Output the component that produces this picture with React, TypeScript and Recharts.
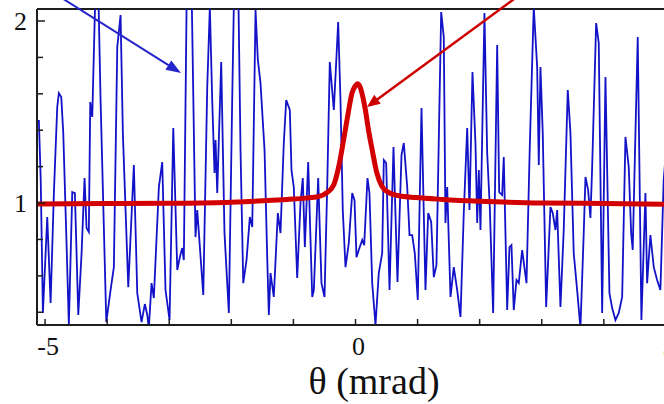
import React from 'react';
import { LineChart, Line, XAxis, YAxis, ReferenceLine } from 'recharts';

// noisy measured trace (blue)
const thetaBlue = [
  -5.10, -5.07, -5.035, -4.965, -4.911, -4.858, -4.804, -4.778, -4.739, -4.707,
  -4.659, -4.617, -4.562, -4.520, -4.465, -4.412, -4.364, -4.332, -4.295, -4.272,
  -4.240, -4.198, -4.171, -4.143, -4.106, -4.014, -3.945, -3.892, -3.837, -3.784,
  -3.747, -3.660, -3.570, -3.515, -3.446, -3.393, -3.354, -3.329, -3.285, -3.248,
  -3.167, -3.113, -3.060, -2.995, -2.935, -2.871, -2.829, -2.791, -2.765, -2.721,
  -2.700, -2.646, -2.620, -2.577, -2.549, -2.452, -2.388, -2.346, -2.308, -2.271,
  -2.254, -2.227, -2.163, -2.110, -2.040, -1.986, -1.960, -1.932, -1.889, -1.852,
  -1.808, -1.755, -1.702, -1.663, -1.610, -1.573, -1.530, -1.465, -1.422, -1.396,
  -1.369, -1.316, -1.251, -1.208, -1.155, -1.116, -1.058, -1.031, -0.994, -0.939,
  -0.886, -0.849, -0.816, -0.762, -0.697, -0.671, -0.601, -0.548, -0.499, -0.456,
  -0.414, -0.349, -0.279, -0.242, -0.205, -0.161, -0.108, -0.053, -0.016, 0.016,
  0.053, 0.108, 0.140, 0.193, 0.225, 0.269, 0.322, 0.375, 0.430, 0.456,
  0.494, 0.548, 0.612, 0.676, 0.741, 0.778, 0.833, 0.870, 0.913, 0.955,
  1.003, 1.063, 1.127, 1.171, 1.219, 1.261, 1.304, 1.380, 1.422, 1.449,
  1.477, 1.530, 1.583, 1.638, 1.691, 1.744, 1.799, 1.836, 1.884, 1.932,
  1.960, 1.986, 2.013, 2.077, 2.121, 2.163, 2.217, 2.282, 2.314, 2.362,
  2.388, 2.443, 2.480, 2.512, 2.549, 2.593, 2.630, 2.684, 2.754, 2.807,
  2.871, 2.926, 2.952, 2.979, 3.016, 3.071, 3.140, 3.177, 3.221, 3.248,
  3.301, 3.354, 3.419, 3.462, 3.515, 3.570, 3.623, 3.676, 3.704, 3.747,
  3.784, 3.812, 3.876, 3.918, 3.973, 4.026, 4.090, 4.134, 4.187, 4.240,
  4.295, 4.348, 4.401, 4.440, 4.465, 4.509, 4.546, 4.605, 4.670, 4.697,
  4.750, 4.804, 4.858, 4.911, 4.964, 5.04, 5.10,
];

const signalBlue = [
  1.456, 1.126, 0.396, 0.923, 0.451, 1.055, 1.527, 1.604, 1.582, 1.385,
  0.835, 0.330, 1.060, 1.055, 0.385, 0.725, 1.137, 0.863, 0.841, 1.555,
  1.473, 2.044, 2.225, 2.170, 1.566, 0.346, 0.522, 0.648, 1.857, 2.033,
  1.385, 0.538, 1.209, 0.505, 0.346, 0.445, 0.385, 0.313, 0.560, 0.478,
  1.088, 1.225, 0.522, 0.357, 1.412, 0.632, 0.703, 0.753, 0.687, 2.077,
  2.297, 2.297, 1.747, 0.813, 0.962, 0.495, 1.637, 2.077, 1.566, 1.165,
  1.346, 1.055, 1.775, 0.835, 0.396, 1.566, 2.077, 2.297, 2.209, 1.291,
  0.560, 0.687, 0.923, 0.868, 2.060, 1.786, 1.659, 1.291, 0.703, 0.385,
  0.615, 0.484, 0.945, 0.835, 1.330, 1.566, 1.511, 1.181, 1.088, 0.588,
  1.000, 1.137, 0.758, 1.225, 0.484, 0.522, 1.137, 0.560, 0.484, 1.088,
  1.775, 1.511, 1.995, 1.566, 0.962, 0.648, 0.780, 1.055, 1.016, 0.703,
  0.742, 0.797, 0.769, 1.137, 1.055, 0.560, 0.330, 0.615, 0.725, 1.236,
  1.220, 0.522, 1.308, 0.566, 1.264, 1.330, 1.088, 0.824, 0.824, 0.725,
  0.467, 1.522, 0.522, 0.945, 0.896, 0.593, 0.659, 2.049, 1.912, 0.890,
  1.088, 0.484, 0.648, 0.522, 0.374, 0.945, 1.412, 0.962, 1.720, 1.330,
  0.890, 1.181, 0.852, 2.044, 1.275, 0.978, 0.396, 1.868, 1.060, 1.044,
  1.253, 0.412, 0.758, 0.769, 0.412, 0.577, 0.560, 0.742, 0.560, 1.308,
  2.077, 1.747, 1.209, 1.747, 1.385, 0.429, 0.978, 0.945, 0.852, 0.962,
  0.429, 0.852, 1.621, 1.385, 0.725, 0.522, 0.313, 0.835, 1.143, 1.071,
  0.918, 1.198, 1.989, 1.879, 0.396, 1.692, 0.505, 0.423, 0.357, 0.396,
  0.484, 1.363, 1.198, 0.835, 0.742, 1.385, 1.912, 0.357, 1.055, 0.560,
  0.824, 0.648, 0.577, 0.522, 1.126, 1.45, 0.85,
];

// smooth resonance curve (red)
const thetaRed = [
  -5.13, -4, -3, -2, -1.5, -1.1, -0.8, -0.6, -0.45, -0.35, -0.27, -0.2, -0.15,
  -0.11, -0.06, 0, 0.03, 0.07, 0.12, 0.16, 0.21, 0.27, 0.34, 0.43, 0.55, 0.7,
  0.97, 1.4, 2, 3, 4, 5.13,
];
const signalRed = [
  0.995, 0.997, 0.999, 1.005, 1.012, 1.02, 1.027, 1.035, 1.06, 1.1, 1.2, 1.33, 1.43,
  1.51, 1.6, 1.645, 1.655, 1.64, 1.58, 1.51, 1.4, 1.29, 1.17, 1.09, 1.055, 1.04,
  1.03, 1.02, 1.01, 1.0, 0.998, 0.993,
];

const xTicks = [-5, -4, -3, -2, -1, 0, 1, 2, 3, 4, 5];
const xLabels = [-5, 0, 5];
const yTicks = [0.4, 0.6, 0.8, 1, 1.2, 1.4, 1.6, 1.8, 2];
const yLabels = [1, 2];

const X_DOMAIN: [number, number] = [-5.13, 5.13];
const Y_DOMAIN: [number, number] = [0.33, 2.066];

// arrow annotations: [start, tip]
const blueArrow = [{ x: -5.19, y: 2.225 }, { x: -2.81, y: 1.714 }];
const redArrow = [{ x: 2.97, y: 2.225 }, { x: 0.185, y: 1.528 }];

const blueData = thetaBlue.map((x, i) => ({ x, y: signalBlue[i] }));
const redData = thetaRed.map((x, i) => ({ x, y: signalRed[i] }));

const FONT = '"Liberation Serif", "Times New Roman", serif';
const AXIS = '#1e1e1e';

function YTick(props: any) {
  const { x, y, payload } = props;
  const v = payload.value;
  const major = yLabels.includes(v);
  return (
    <g>
      <line x1={x + 10} x2={x + 10 + (major ? 8 : 6)} y1={y} y2={y} stroke={AXIS} strokeWidth={1.5} />
      {major && (
        <text x={x} y={y} dy={8.5} textAnchor="end" fontSize={26} fontFamily={FONT} fill="#111">
          {v}
        </text>
      )}
    </g>
  );
}

function XTick(props: any) {
  const { x, y, payload } = props;
  const v = payload.value;
  const major = xLabels.includes(v);
  return (
    <g>
      <line x1={x} x2={x} y1={y - 10} y2={y - 16} stroke={AXIS} strokeWidth={1.5} />
      {major && (
        <text x={x + 3} y={y + 20} textAnchor="middle" fontSize={26} fontFamily={FONT} fill="#111">
          {v}
        </text>
      )}
    </g>
  );
}

function arrowShape(color: string, width: number, headLen: number, headHalf: number) {
  return (props: any) => {
    const { x1, y1, x2, y2 } = props;
    const dx = x2 - x1;
    const dy = y2 - y1;
    const len = Math.sqrt(dx * dx + dy * dy) || 1;
    const ux = dx / len;
    const uy = dy / len;
    const bx = x2 - ux * headLen;
    const by = y2 - uy * headLen;
    const pts = `${x2},${y2} ${bx - uy * headHalf},${by + ux * headHalf} ${bx + uy * headHalf},${by - ux * headHalf}`;
    return (
      <g>
        <line x1={x1} y1={y1} x2={bx + ux * 2} y2={by + uy * 2} stroke={color} strokeWidth={width} />
        <polygon points={pts} fill={color} />
      </g>
    );
  };
}

export default function App() {
  return (
    <div style={{ position: 'absolute', left: 0, top: 0, width: 664, height: 404, overflow: 'hidden', background: '#fff' }}>
      <LineChart width={700} height={404} margin={{ top: 9, right: 26, left: 0, bottom: 0 }}>
        <XAxis
          dataKey="x"
          type="number"
          domain={X_DOMAIN}
          allowDataOverflow
          ticks={xTicks}
          interval={0}
          height={79}
          tickSize={0}
          tickMargin={10}
          tick={<XTick />}
          axisLine={{ stroke: AXIS, strokeWidth: 2 }}
        />
        <YAxis
          type="number"
          domain={Y_DOMAIN}
          allowDataOverflow
          ticks={yTicks}
          interval={0}
          width={37}
          tickSize={0}
          tickMargin={10}
          tick={<YTick />}
          axisLine={{ stroke: AXIS, strokeWidth: 2 }}
        />
        <ReferenceLine y={Y_DOMAIN[1]} stroke={AXIS} strokeWidth={2} />
        <Line
          data={blueData}
          dataKey="y"
          type="linear"
          stroke="#1212c8"
          strokeWidth={1.8}
          dot={false}
          isAnimationActive={false}
        />
        <Line
          data={redData}
          dataKey="y"
          type="monotone"
          stroke="#d20000"
          strokeWidth={5}
          strokeLinejoin="round"
          dot={false}
          isAnimationActive={false}
        />
        <ReferenceLine
          segment={blueArrow}
          ifOverflow="visible"
          shape={arrowShape('#2525cc', 2, 15, 5.5)}
        />
        <ReferenceLine
          segment={redArrow}
          ifOverflow="visible"
          shape={arrowShape('#cc0000', 2.5, 13, 5.5)}
        />
      </LineChart>
      <svg width={664} height={404} style={{ position: 'absolute', left: 0, top: 0, pointerEvents: 'none' }}>
        <text x={374} y={394} textAnchor="middle" fontSize={38} fontFamily={FONT} fill="#111">
          θ (mrad)
        </text>
      </svg>
    </div>
  );
}
